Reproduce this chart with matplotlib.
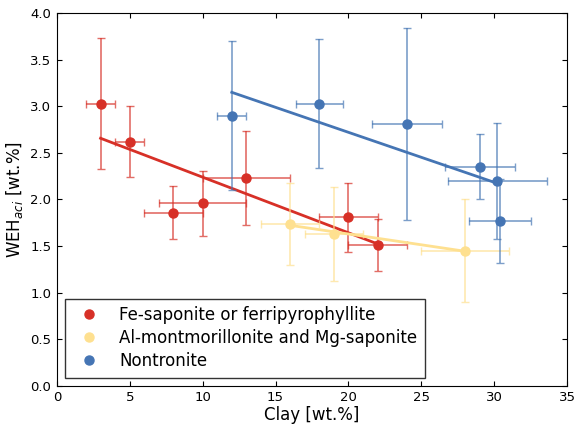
import numpy as np
import matplotlib
matplotlib.use('Agg')
import matplotlib.pyplot as plt

# Fe-saponite or ferripyrophyllite
fe_x = [3, 5, 8, 10, 13, 20, 22]
fe_y = [3.03, 2.62, 1.86, 1.96, 2.23, 1.81, 1.51]
fe_xerr = [1, 1, 2, 3, 3, 2, 2]
fe_yerr = [0.70, 0.38, 0.28, 0.35, 0.50, 0.37, 0.28]

# Al-montmorillonite and Mg-saponite
al_x = [16, 19, 28]
al_y = [1.74, 1.63, 1.45]
al_xerr = [2, 2, 3]
al_yerr = [0.44, 0.50, 0.55]

# Nontronite
no_x = [12, 18, 24, 29, 30.2, 30.4]
no_y = [2.90, 3.03, 2.81, 2.35, 2.20, 1.77]
no_xerr = [1, 1.6, 2.4, 2.4, 3.4, 2.15]
no_yerr = [0.80, 0.69, 1.03, 0.35, 0.62, 0.45]

groups = [
    ('Fe-saponite or ferripyrophyllite', fe_x, fe_y, fe_xerr, fe_yerr, '#d73027'),
    ('Al-montmorillonite and Mg-saponite', al_x, al_y, al_xerr, al_yerr, '#fee090'),
    ('Nontronite', no_x, no_y, no_xerr, no_yerr, '#4575b4'),
]

fig, ax = plt.subplots(figsize=(5.74, 4.24), dpi=100)
fig.subplots_adjust(left=0.099, right=0.988, top=0.969, bottom=0.090)

for label, x, y, xe, ye, c in groups:
    ax.errorbar(x, y, xerr=xe, yerr=ye, fmt='none', ecolor=c, alpha=0.7,
                capsize=3, elinewidth=1.2)
    ax.plot(x, y, 'o', color=c, markersize=6.5, markeredgecolor=c, label=label)
    k, b = np.polyfit(x, y, 1)
    xs = np.array([min(x), max(x)])
    ax.plot(xs, k * xs + b, color=c, linewidth=2)

ax.set_xlim(0, 35)
ax.set_ylim(0, 4)
ax.set_yticks(np.arange(0, 4.01, 0.5))
ax.set_xlabel('Clay [wt.%]', fontsize=12, labelpad=1)
ax.set_ylabel('WEH$_{aci}$ [wt.%]', fontsize=12, labelpad=4)
ax.tick_params(direction='in', top=True, right=True, labelsize=9.5, pad=4)
ax.legend(loc='lower left', numpoints=1, fontsize=12, fancybox=False,
          edgecolor='black', handletextpad=0.8, borderpad=0.45,
          labelspacing=0.3, borderaxespad=0.5)

fig.savefig('out.png', dpi=100)
